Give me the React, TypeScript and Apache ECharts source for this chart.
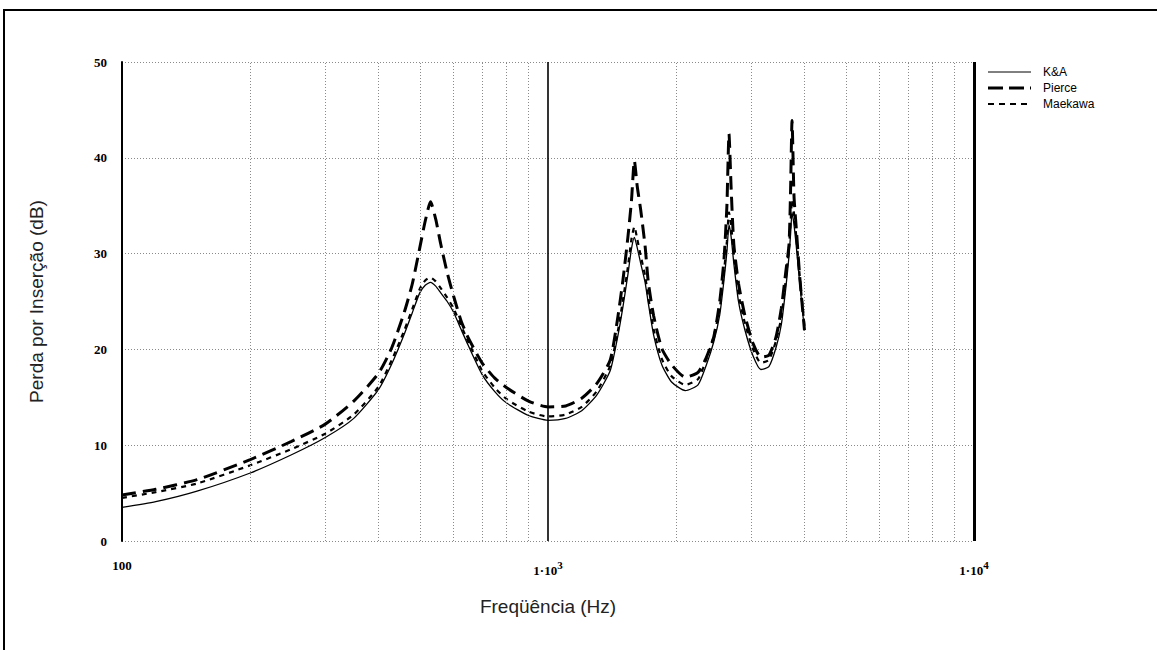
import React, { useEffect, useRef } from "react";
import * as echarts from "echarts";

// Frequências (Hz) em que as três curvas foram amostradas
const frequencies = [
  100, 120, 150, 200, 250, 300, 350, 400, 430, 460, 480, 500, 515, 530, 545, 560,
  580, 600, 625, 650, 700, 750, 800, 900, 1000, 1100, 1200, 1300, 1400, 1460, 1500,
  1540, 1570, 1595, 1620, 1650, 1690, 1720, 1770, 1850, 1950, 2100, 2250, 2350, 2450,
  2530, 2590, 2630, 2660, 2690, 2730, 2800, 2900, 3030, 3160, 3300, 3430, 3530, 3620,
  3680, 3710, 3740, 3780, 3830, 3900, 4000,
];

// Perda por inserção (dB)
const kaValues = [
  3.5, 4.1, 5.2, 7.1, 9.0, 10.8, 12.8, 15.8, 18.5, 21.6, 23.8, 25.9, 26.7, 27.0, 26.6, 25.9,
  25.0, 23.9, 22.1, 20.4, 17.4, 15.6, 14.4, 13.1, 12.6, 12.8, 13.6, 15.2, 17.8, 21.5, 24.5,
  27.8, 30.5, 31.7, 30.6, 29.0, 27.0, 24.8, 21.5, 18.4, 16.6, 15.7, 16.3, 18.3, 20.8,
  23.6, 27.3, 30.2, 33.0, 31.8, 29.0, 25.0, 22.0, 19.3, 17.9, 18.2, 20.2, 22.6, 26.6,
  29.8, 32.0, 34.3, 33.0, 30.6, 26.8, 22.0,
];

const pierceValues = [
  4.8, 5.4, 6.4, 8.5, 10.4, 12.2, 14.6, 17.5, 20.2, 23.9, 26.8, 30.6, 33.4, 35.4, 33.6, 31.0,
  28.0, 25.6, 23.0, 21.2, 18.6, 17.0, 16.0, 14.6, 14.0, 14.1, 14.9, 16.4, 18.9, 23.5, 27.3,
  31.7, 35.5, 39.7, 37.0, 34.6, 30.8, 27.0, 23.5, 20.1, 18.4, 17.1, 17.6, 19.1, 21.3,
  25.0, 29.5, 35.0, 42.5, 37.0, 31.0, 26.9, 23.5, 20.6, 19.2, 19.4, 21.3, 24.3, 28.3,
  31.0, 36.5, 43.9, 36.0, 32.4, 27.5, 22.0,
];

const maekawaValues = [
  4.5, 5.1, 6.0, 7.9, 9.6, 11.2, 13.2, 16.1, 18.9, 22.0, 24.2, 26.3, 27.2, 27.5, 27.1, 26.4,
  25.4, 24.3, 22.5, 20.8, 17.8, 16.0, 14.8, 13.5, 13.0, 13.2, 14.0, 15.6, 18.3, 22.0, 25.2,
  28.6, 31.5, 32.8, 31.5, 29.8, 27.7, 25.4, 22.1, 19.0, 17.2, 16.3, 16.9, 18.9, 21.4,
  24.3, 28.2, 31.3, 34.3, 33.0, 30.0, 25.8, 22.7, 20.0, 18.6, 18.9, 20.9, 23.4, 27.5,
  30.8, 33.2, 35.6, 34.2, 31.6, 27.6, 22.4,
];

const yTicks = [0, 10, 20, 30, 40, 50];
const minorFrequencies = [
  200, 300, 400, 500, 600, 700, 800, 900,
  2000, 3000, 4000, 5000, 6000, 7000, 8000, 9000,
];
const seriesNames = ["K&A", "Pierce", "Maekawa"];

const pairs = (vals: number[]) => frequencies.map((f, i) => [f, vals[i]]);

const serif = "'Liberation Serif', 'Times New Roman', serif";
const sans = "'Liberation Sans', Arial, sans-serif";

export default function App() {
  const ref = useRef<HTMLDivElement>(null);

  useEffect(() => {
    const chart = echarts.init(ref.current!, null, { renderer: "svg" });

    const legendRows = [
      { name: seriesNames[0], dash: null as number[] | null, width: 1 },
      { name: seriesNames[1], dash: [15, 6], width: 3 },
      { name: seriesNames[2], dash: [6, 5], width: 2.2 },
    ];

    const legendGraphics: any[] = [];
    legendRows.forEach((r, i) => {
      const y = 72 + i * 16;
      legendGraphics.push({
        type: "line",
        shape: { x1: 988, y1: y, x2: 1031, y2: y },
        style: { stroke: "#000", lineWidth: r.width, lineDash: r.dash || undefined },
      });
      legendGraphics.push({
        type: "text",
        x: 1043,
        y,
        style: {
          text: r.name,
          font: `12px ${sans}`,
          fill: "#000",
          verticalAlign: "middle",
        },
      });
    });

    chart.setOption({
      animation: false,
      backgroundColor: "#fff",
      grid: { left: 122, top: 62, width: 852, height: 479, containLabel: false },
      xAxis: {
        type: "log",
        logBase: 10,
        min: 100,
        max: 10000,
        name: "Freqüência (Hz)",
        nameLocation: "middle",
        nameGap: 56,
        nameTextStyle: { fontFamily: sans, fontSize: 19, color: "#222" },
        axisLine: { show: false },
        axisTick: { show: false },
        splitLine: { show: false },
        axisLabel: {
          margin: 18,
          formatter: (v: number) =>
            v <= 100 ? "{b|100}" : `{b|1·10}{s|${Math.round(Math.log10(v))}}`,
          rich: {
            b: {
              fontFamily: serif,
              fontWeight: "bold",
              fontSize: 13,
              color: "#000",
              verticalAlign: "bottom",
            },
            s: {
              fontFamily: serif,
              fontWeight: "bold",
              fontSize: 11,
              color: "#000",
              verticalAlign: "bottom",
              padding: [0, 0, 7, 0],
            },
          },
        },
      },
      yAxis: {
        type: "value",
        min: yTicks[0],
        max: yTicks[yTicks.length - 1],
        interval: 10,
        name: "Perda por Inserção (dB)",
        nameLocation: "middle",
        nameGap: 76,
        nameTextStyle: { fontFamily: sans, fontSize: 19, color: "#222" },
        axisLine: { show: true, lineStyle: { color: "#000", width: 2 } },
        axisTick: { show: false },
        axisLabel: {
          margin: 15,
          fontFamily: serif,
          fontWeight: "bold",
          fontSize: 13,
          color: "#000",
        },
        splitLine: {
          show: true,
          lineStyle: { color: "#8a8a8a", width: 1, type: [1, 2] },
        },
      },
      graphic: [
        {
          type: "polyline",
          shape: { points: [[4, 650], [4, 10], [1157, 10]] },
          style: { stroke: "#000", lineWidth: 2, fill: "none" },
        },
        ...legendGraphics,
      ],
      series: [
        {
          name: "grade",
          type: "line",
          data: [],
          silent: true,
          markLine: {
            silent: true,
            symbol: "none",
            label: { show: false },
            lineStyle: { color: "#8a8a8a", width: 1, type: [1, 2] },
            data: [
              ...minorFrequencies.map((f) => ({ xAxis: f })),
              { xAxis: 1000, lineStyle: { color: "#000", width: 1.6, type: "solid" } },
              { xAxis: 10000, lineStyle: { color: "#000", width: 3, type: "solid" } },
            ],
          },
        },
        {
          name: seriesNames[0],
          type: "line",
          data: pairs(kaValues),
          showSymbol: false,
          smooth: 0.2,
          lineStyle: { color: "#000", width: 1.3, type: "solid" },
          z: 3,
        },
        {
          name: seriesNames[2],
          type: "line",
          data: pairs(maekawaValues),
          showSymbol: false,
          smooth: 0.2,
          lineStyle: { color: "#000", width: 2.2, type: [5, 5] },
          z: 4,
        },
        {
          name: seriesNames[1],
          type: "line",
          data: pairs(pierceValues),
          showSymbol: false,
          smooth: 0.2,
          lineStyle: { color: "#000", width: 3, type: [14, 7] },
          z: 5,
        },
      ],
    });

    return () => chart.dispose();
  }, []);

  return (
    <div
      ref={ref}
      style={{ position: "fixed", left: 0, top: 0, width: 1157, height: 657, background: "#fff" }}
    />
  );
}
